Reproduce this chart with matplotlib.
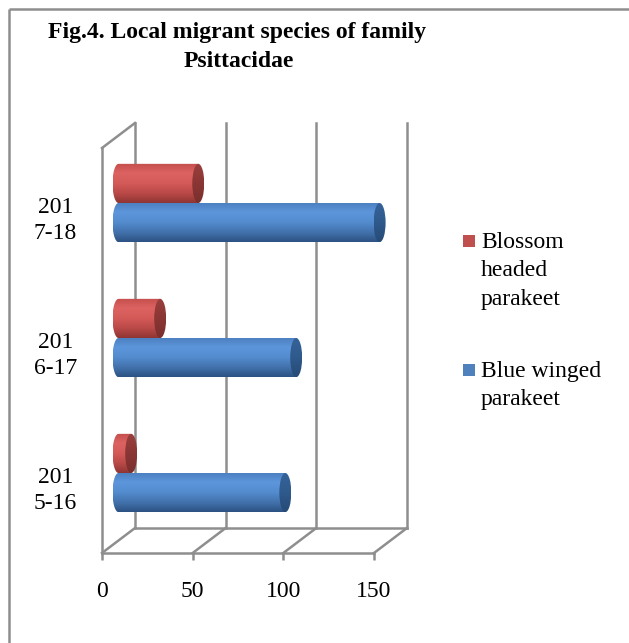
import numpy as np
import matplotlib
matplotlib.use("Agg")
import matplotlib.pyplot as plt
from matplotlib.path import Path
from matplotlib.patches import PathPatch, Ellipse, Rectangle
from matplotlib.lines import Line2D
from matplotlib.colors import LinearSegmentedColormap

# ---- data -------------------------------------------------------------
years = ["201\n5-16", "201\n6-17", "201\n7-18"]
blossom_headed = [7, 23, 44]
blue_winged = [92, 98, 144]
series_names = ["Blossom\nheaded\nparakeet", "Blue winged\nparakeet"]
x_ticks = [0, 50, 100, 150]
title_lines = ["Fig.4. Local migrant species of family", "Psittacidae"]

# ---- styling ------------------------------------------------------------
W, H = 629, 643
FONT = "Liberation Serif"
GRID = "#8e8e8e"
LW = 1.8

red_body = ["#c44f4d", "#dc6361", "#d45a58", "#bb4a48", "#8e3533"]
red_cap = ["#9a403e", "#8a3634", "#7a2f2d"]
blue_body = ["#4a7ebf", "#5d96da", "#538ccf", "#4373ad", "#2c5283"]
blue_cap = ["#35639a", "#2f5a8c", "#264b77"]


def fx(x):
    return x / W


def fy(y):
    return 1 - y / H


fig = plt.figure(figsize=(W / 100, H / 100), dpi=100)
fig.patch.set_facecolor("white")

# plot area: front floor at y=553, back wall top at y=123
ax = fig.add_axes([fx(102), fy(553), (407 - 102) / W, (553 - 123) / H])
XMAX = 150 * 305 / 272          # value units across the full axes width
DX = XMAX - 150                 # depth offset (x) in value units
DY = 25 / 135                   # depth offset (y) in category units
YMAX = -0.5 + 430 / 135
for s in ax.spines.values():
    s.set_visible(False)
ax.patch.set_alpha(0)

# walls, floor and gridlines
kw = dict(color=GRID, lw=LW, solid_capstyle="projecting", clip_on=False, zorder=1)
ax.plot([0, 150], [-0.5, -0.5], **kw)
ax.plot([DX, 150 + DX], [-0.5 + DY, -0.5 + DY], **kw)
for t in x_ticks:
    ax.plot([t, t + DX], [-0.5, -0.5 + DY], **kw)
    ax.plot([t + DX, t + DX], [-0.5 + DY, 2.5 + DY], **kw)
ax.plot([0, 0], [-0.5, 2.5], **kw)
ax.plot([0, DX], [2.5, 2.5 + DY], **kw)

# ticks and labels
ax.set_xticks(x_ticks)
ax.set_xticklabels([str(t) for t in x_ticks], fontfamily=FONT, fontsize=17)
ax.tick_params(axis="x", length=5, width=LW, color=GRID, pad=15.5)
ax.set_yticks(range(len(years)))
ax.set_yticklabels(years, fontfamily=FONT, fontsize=17,
                   multialignment="center", linespacing=1.32)
ax.tick_params(axis="y", length=0, pad=18)


def gradient_fill(ax, patch, colors, x0, x1, y0, y1, z):
    cmap = LinearSegmentedColormap.from_list("g", colors)
    grad = np.linspace(0, 1, 128).reshape(-1, 1)
    ax.add_patch(patch)
    im = ax.imshow(grad, cmap=cmap, aspect="auto", extent=[x0, x1, y1, y0],
                   origin="upper", interpolation="bilinear", zorder=z)
    im.set_clip_path(patch)


def cylinder(ax, value, yc, h, body, cap, z):
    ew = 6.6
    x0 = DX / 2
    x1 = value + DX / 2
    yt, yb = yc + h / 2, yc - h / 2
    th = np.linspace(-np.pi / 2, np.pi / 2, 60)
    left_x = x0 - (ew / 2) * np.cos(th)
    left_y = yc + (h / 2) * np.sin(th)
    verts = ([(x1, yb), (x1, yt), (x0, yt)]
             + list(zip(left_x[::-1], left_y[::-1]))
             + [(x0, yb), (x1, yb)])
    body_patch = PathPatch(Path(verts), facecolor="none", edgecolor="none")
    gradient_fill(ax, body_patch, body, x0 - ew / 2, x1, yt, yb, z)
    cap_patch = Ellipse((x1, yc), ew, h, facecolor="none", edgecolor="none")
    gradient_fill(ax, cap_patch, cap, x1 - ew / 2, x1 + ew / 2, yt, yb, z + 0.1)


h = 0.29
for i in range(len(years)):
    yc = i + DY / 2
    cylinder(ax, blossom_headed[i], yc + h / 2, h, red_body, red_cap, 3)
    cylinder(ax, blue_winged[i], yc - h / 2, h, blue_body, blue_cap, 4)

ax.set_xlim(0, XMAX)
ax.set_ylim(-0.5, YMAX)

# title
for line, (tx, ty) in zip(title_lines, [(237.5, 38), (238.5, 67)]):
    fig.text(fx(tx), fy(ty), line, ha="center", va="baseline",
             fontfamily=FONT, fontweight="bold", fontsize=17)

# legend: colour key plus one baseline per text line
leg_colors = ["#c0504d", "#4f81bd"]
leg_base = [248, 377]
PITCH = 28.5
for name, col, yy in zip(series_names, leg_colors, leg_base):
    fig.add_artist(Rectangle((fx(463), fy(yy - 1)), 12 / W, 12 / H,
                             transform=fig.transFigure, facecolor=col,
                             edgecolor="none"))
    for k, part in enumerate(name.split("\n")):
        fig.text(fx(481), fy(yy + k * PITCH), part, ha="left", va="baseline",
                 fontfamily=FONT, fontsize=17)

# outer frame
fig.add_artist(Line2D([fx(9), fx(9)], [fy(9), 0], transform=fig.transFigure,
                      color=GRID, lw=LW, solid_capstyle="butt"))
fig.add_artist(Line2D([fx(9), 1], [fy(9), fy(9)], transform=fig.transFigure,
                      color=GRID, lw=LW, solid_capstyle="butt"))

fig.savefig("out.png", dpi=100, facecolor="white")
